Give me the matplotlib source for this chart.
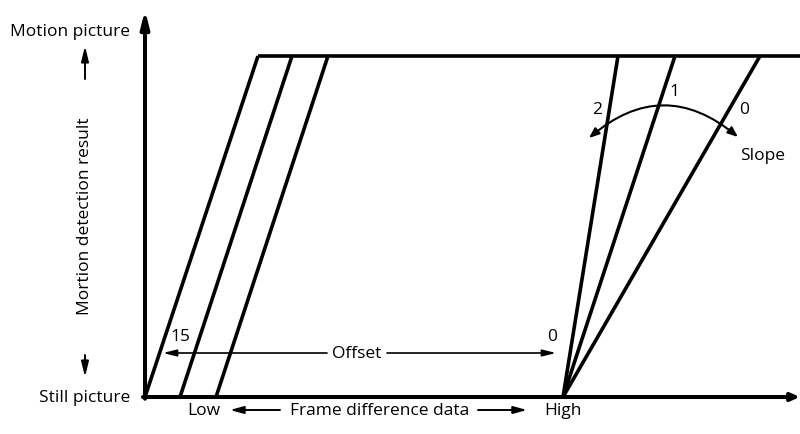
import matplotlib
matplotlib.use("Agg")
import matplotlib.pyplot as plt
from matplotlib.patches import FancyArrowPatch

plt.rcParams['font.family'] = ['Open Sans', 'DejaVu Sans']

# ---- diagram data (x: frame difference units, y: 0=still, 1=motion) ----
offset_starts = [0, 35, 71]          # left family: bottom x of each line
offset_ends = [113, 147, 183]        # left family: top x of each line
offset_labels = ["15", "0"]
slope_origin = 418                   # right family: common origin
slope_ends = [473, 530, 615]         # right family: top x of each line
slope_labels = ["2", "1", "0"]
still_level = 0.0
motion_level = 1.0

fig = plt.figure(figsize=(8, 4.35), dpi=100)
ax = fig.add_axes([0, 0, 1, 1])
PX = 341.0
ax.set_xlim(-145, 655)
ax.set_ylim(-(435 - 398) / PX, 398 / PX)
ax.axis('off')

lw = 2.6
k = 'black'
fs = 12.5

def py(p):
    return (398 - p) / PX

# axes
ax.annotate('', xy=(0, 1.135), xytext=(0, -0.005),
            arrowprops=dict(arrowstyle='-|>,head_length=1.0,head_width=0.25',
                            lw=2.9, color=k, shrinkA=0, shrinkB=0))
ax.annotate('', xy=(655, still_level), xytext=(-2, still_level),
            arrowprops=dict(arrowstyle='-|>,head_length=0.5,head_width=0.22',
                            lw=2.9, color=k, shrinkA=0, shrinkB=0))
# top level line
ax.plot([offset_ends[0], 655], [motion_level, motion_level], color=k, lw=lw,
        solid_capstyle='butt')

# offset family
for x0, x1 in zip(offset_starts, offset_ends):
    ax.plot([x0, x1], [still_level, motion_level], color=k, lw=lw,
            solid_capstyle='butt')

# slope family
for x1 in slope_ends:
    ax.plot([slope_origin, x1], [still_level, motion_level], color=k, lw=lw,
            solid_capstyle='butt')

# offset arrow
y_off = py(354)
ax.annotate('', xy=(18, y_off), xytext=(182, y_off),
            arrowprops=dict(arrowstyle='-|>,head_length=0.8,head_width=0.2',
                            lw=1.2, color=k, shrinkA=0, shrinkB=0))
ax.annotate('', xy=(411, y_off), xytext=(242, y_off),
            arrowprops=dict(arrowstyle='-|>,head_length=0.8,head_width=0.2',
                            lw=1.2, color=k, shrinkA=0, shrinkB=0))
ax.text(212, y_off, "Offset", ha='center', va='center', fontsize=fs)
ax.text(35, py(337), offset_labels[0], ha='center', va='center', fontsize=fs)
ax.text(407, py(337), offset_labels[1], ha='center', va='center', fontsize=fs)

# slope arc
arc = FancyArrowPatch((444, py(139)), (593, py(138)),
                      connectionstyle='arc3,rad=-0.42',
                      arrowstyle='<|-|>,head_length=6,head_width=2.4',
                      lw=1.5, color=k, shrinkA=0, shrinkB=0)
ax.add_patch(arc)
ax.text(452, py(110), slope_labels[0], ha='center', va='center', fontsize=fs)
ax.text(529, py(92), slope_labels[1], ha='center', va='center', fontsize=fs)
ax.text(599, py(110), slope_labels[2], ha='center', va='center', fontsize=fs)
ax.text(618, py(156), "Slope", ha='center', va='center', fontsize=fs)

# left labels
ax.text(-15, py(32), "Motion picture", ha='right', va='center', fontsize=fs)
ax.text(-15, still_level, "Still picture", ha='right', va='center', fontsize=fs)
ax.text(-60, py(216), "Mortion detection result", rotation=90,
        ha='center', va='center', fontsize=fs)
ax.annotate('', xy=(-60, py(47)), xytext=(-60, py(80)),
            arrowprops=dict(arrowstyle='-|>,head_length=0.9,head_width=0.22',
                            lw=1.4, color=k, shrinkA=0, shrinkB=0))
ax.annotate('', xy=(-60, py(378)), xytext=(-60, py(356)),
            arrowprops=dict(arrowstyle='-|>,head_length=0.9,head_width=0.22',
                            lw=1.4, color=k, shrinkA=0, shrinkB=0))

# bottom labels
y_b = py(411)
ax.text(59, y_b, "Low", ha='center', va='center', fontsize=fs)
ax.text(235, y_b, "Frame difference data", ha='center', va='center', fontsize=fs)
ax.text(418, y_b, "High", ha='center', va='center', fontsize=fs)
ax.annotate('', xy=(85, y_b), xytext=(135, y_b),
            arrowprops=dict(arrowstyle='-|>,head_length=0.8,head_width=0.22',
                            lw=1.4, color=k, shrinkA=0, shrinkB=0))
ax.annotate('', xy=(382, y_b), xytext=(333, y_b),
            arrowprops=dict(arrowstyle='-|>,head_length=0.8,head_width=0.22',
                            lw=1.4, color=k, shrinkA=0, shrinkB=0))

fig.savefig('out.png', dpi=100, facecolor='white')
